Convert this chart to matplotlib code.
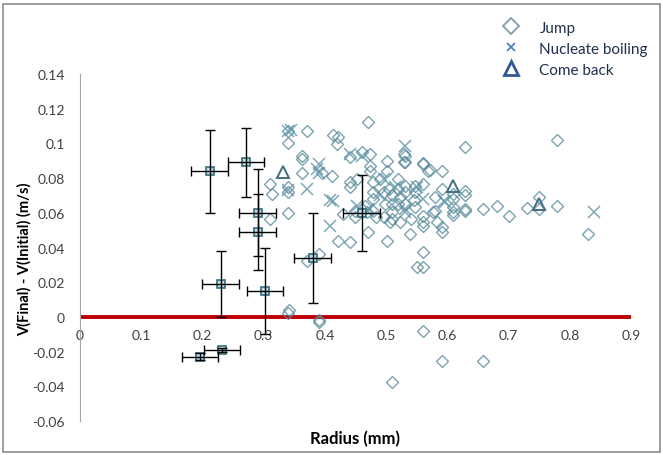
import matplotlib
matplotlib.use('Agg')
import matplotlib.pyplot as plt
from matplotlib.lines import Line2D
from matplotlib.patches import Rectangle

plt.rcParams['font.family'] = ['Lato', 'DejaVu Sans']

# Jump (diamonds)
jump_r = [0.340, 0.340, 0.370, 0.414, 0.422, 0.419, 0.471, 0.460, 0.474, 0.441,
          0.362, 0.362, 0.362, 0.395, 0.411, 0.310, 0.313, 0.340, 0.340, 0.340,
          0.310, 0.422, 0.441, 0.471, 0.501, 0.539, 0.561, 0.550, 0.561, 0.561,
          0.591, 0.577, 0.610, 0.629, 0.370, 0.390,
          0.473, 0.473, 0.501, 0.501, 0.531, 0.531, 0.561, 0.569, 0.591, 0.629,
          0.441, 0.441, 0.452, 0.479, 0.490, 0.504, 0.520, 0.531, 0.547, 0.561,
          0.580, 0.591, 0.610, 0.610, 0.610, 0.610, 0.629, 0.629, 0.629, 0.659,
          0.681, 0.701, 0.730, 0.749, 0.749, 0.779, 0.829, 0.779,
          0.479, 0.479, 0.496, 0.509, 0.509, 0.509, 0.509, 0.520, 0.523, 0.520,
          0.531, 0.531, 0.540, 0.547, 0.545, 0.547, 0.561, 0.561, 0.580, 0.583,
          0.591, 0.449, 0.449, 0.430, 0.466, 0.468, 0.479, 0.484, 0.498, 0.496,
          0.507, 0.523, 0.529, 0.529, 0.561, 0.571,
          0.341, 0.339, 0.391, 0.390, 0.561, 0.591, 0.659, 0.510]
jump_v = [0.107, 0.100, 0.107, 0.105, 0.1035, 0.0997, 0.1125, 0.0948, 0.094, 0.092,
          0.093, 0.091, 0.083, 0.083, 0.081, 0.0766, 0.071, 0.0747, 0.072, 0.060,
          0.0565, 0.044, 0.043, 0.0488, 0.044, 0.0478, 0.0373, 0.0286, 0.0286, 0.0526,
          0.0488, 0.0603, 0.0603, 0.0612, 0.032, 0.036,
          0.0868, 0.0843, 0.090, 0.0843, 0.093, 0.089, 0.088, 0.0843, 0.0843, 0.0977,
          0.0776, 0.0747, 0.0795, 0.0776, 0.0795, 0.0737, 0.0795, 0.0757, 0.0757, 0.0766,
          0.069, 0.0737, 0.071, 0.068, 0.0633, 0.059, 0.0728, 0.070, 0.0622, 0.0622,
          0.064, 0.0583, 0.063, 0.069, 0.062, 0.064, 0.048, 0.102,
          0.0718, 0.068, 0.0718, 0.070, 0.0652, 0.0603, 0.0565, 0.0737, 0.069, 0.0652,
          0.0718, 0.0652, 0.0565, 0.0718, 0.0672, 0.0633, 0.0583, 0.0545, 0.0612, 0.0545,
          0.0517, 0.0612, 0.0574, 0.0593, 0.064, 0.0603, 0.0612, 0.0574, 0.0652, 0.0574,
          0.0545, 0.0545, 0.094, 0.0895, 0.0887, 0.0847,
          0.004, 0.0025, -0.002, -0.003, -0.0083, -0.0255, -0.0252, -0.0376]

# Nucleate boiling (crosses)
nb_r = [0.340, 0.345, 0.441, 0.391, 0.391, 0.370, 0.340, 0.408, 0.408, 0.387,
        0.531, 0.414, 0.496, 0.531, 0.596, 0.550, 0.452, 0.594, 0.531, 0.840,
        0.460, 0.490, 0.515, 0.470, 0.560]
nb_v = [0.107, 0.108, 0.094, 0.088, 0.083, 0.0737, 0.073, 0.0676, 0.0526, 0.085,
        0.0987, 0.067, 0.0795, 0.0603, 0.066, 0.0747, 0.064, 0.067, 0.062, 0.0607,
        0.093, 0.070, 0.075, 0.062, 0.068]

# Come back (triangles)
cb_r = [0.331, 0.610, 0.750]
cb_v = [0.0837, 0.0757, 0.065]

# averaged points with error bars
avg_r = [0.212, 0.271, 0.290, 0.290, 0.230, 0.302, 0.380, 0.460, 0.196, 0.232]
avg_v = [0.084, 0.089, 0.060, 0.049, 0.019, 0.015, 0.034, 0.060, -0.023, -0.019]
avg_verr = [0.024, 0.020, 0.025, 0.022, 0.019, 0.025, 0.026, 0.022, 0.002, 0.001]
avg_rerr = [0.03] * len(avg_r)

xticks = [0, 0.1, 0.2, 0.3, 0.4, 0.5, 0.6, 0.7, 0.8, 0.9]
xlabels = ['0', '0.1', '0.2', '0.3', '0.4', '0.5', '0.6', '0.7', '0.8', '0.9']
yticks = [-0.06, -0.04, -0.02, 0, 0.02, 0.04, 0.06, 0.08, 0.1, 0.12, 0.14]
ylabels = ['-0.06', '-0.04', '-0.02', '0', '0.02', '0.04', '0.06', '0.08', '0.1', '0.12', '0.14']

fig = plt.figure(figsize=(6.63, 4.56), dpi=100)
ax = fig.add_axes([80 / 663, 1 - 422 / 456, 551 / 663, 347 / 456])

ax.axhline(0, color='#c00000', lw=2.8, zorder=1)

ax.plot(jump_r, jump_v, 'D', ls='none', ms=6.5, mfc='none', mec='#5a8c9c',
        mew=1.0, alpha=0.8, zorder=3)
ax.plot(nb_r, nb_v, 'x', ls='none', ms=8, mec='#5b92a8', mew=1.1, alpha=0.8, zorder=3)
ax.plot(cb_r, cb_v, '^', ls='none', ms=9, mfc='none', mec='#3f6f80', mew=1.4, zorder=3)

ax.plot(avg_r, avg_v, 's', ls='none', ms=6, mfc='#c9d9de', mec='#31707f', mew=1.2, zorder=4)
ax.errorbar(avg_r, avg_v, yerr=avg_verr, xerr=avg_rerr, fmt='none',
            ecolor='black', elinewidth=1.0, capsize=3.5, capthick=1.0, zorder=5)

ax.set_xlim(0, 0.9)
ax.set_ylim(-0.06, 0.14)
ax.set_xticks(xticks)
ax.set_xticklabels(xlabels)
ax.set_yticks(yticks)
ax.set_yticklabels(ylabels)
ax.tick_params(length=0, labelsize=10, colors='#404040')
ax.tick_params(axis='y', pad=11)
ax.tick_params(axis='x', pad=9)
for s in ['top', 'right']:
    ax.spines[s].set_visible(False)
ax.spines['left'].set_color('#a6a6a6')
ax.spines['bottom'].set_position(('data', 0))
ax.spines['bottom'].set_visible(False)

ax.set_xlabel('Radius (mm)', fontsize=12, fontweight='bold')
ax.xaxis.set_label_coords(0.5, -0.025)
ax.set_ylabel('V(Final) - V(Initial) (m/s)', fontsize=10.5, fontweight='bold')
ax.yaxis.set_label_coords(-0.088, 0.47)

handles = [
    Line2D([], [], marker='D', ls='none', ms=8, mfc='none', mec='#7f9cb0', mew=1.3),
    Line2D([], [], marker='x', ls='none', ms=6, mec='#4f81bd', mew=1.3),
    Line2D([], [], marker='^', ls='none', ms=10, mfc='none', mec='#2f5b8f', mew=2),
]
fig.legend(handles, ['Jump', 'Nucleate boiling', 'Come back'], loc='upper left',
           bbox_to_anchor=(486 / 663, 1 - 8 / 456), frameon=False, fontsize=11,
           labelspacing=0.45, handletextpad=1.1, handlelength=1.5, labelcolor='#1f2f4f')

fig.add_artist(Rectangle((3 / 663, 3 / 456), 657 / 663, 448 / 456, transform=fig.transFigure,
                         fill=False, edgecolor='#8c8c8c', lw=1.2))

fig.savefig('out.png', dpi=100)
